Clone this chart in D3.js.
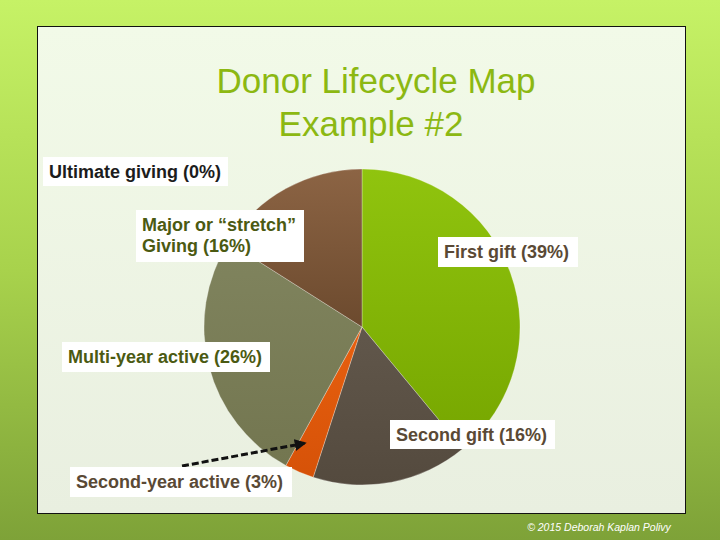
<!DOCTYPE html>
<html>
<head>
<meta charset="utf-8">
<script src="https://cdn.jsdelivr.net/npm/d3@7"></script>
<style>
  html, body { margin: 0; padding: 0; }
  body { width: 720px; height: 540px; overflow: hidden; }
  text { font-family: Arial, "Liberation Sans", sans-serif; }
</style>
</head>
<body>
<script>
// data
const stages = ['First gift', 'Second gift', 'Second-year active', 'Multi-year active', 'Major or “stretch” Giving', 'Ultimate giving'];
const shares = [39, 16, 3, 26, 16, 0];
const sliceTop = ['#90c40e', '#61574b', '#e8600f', '#80845e', '#8c6444', '#888'];
const sliceBottom = ['#76a600', '#544a3e', '#d65208', '#737650', '#6c4a2e', '#888'];

// label boxes (hand placed like the original slide)
const labelLines = [
    ['First gift (39%)'],
    ['Second gift (16%)'],
    ['Second-year active (3%)'],
    ['Multi-year active (26%)'],
    ['Major or “stretch”', 'Giving (16%)'],
    ['Ultimate giving (0%)']
];
const labelBox = [
    {x: 438, y: 237, w: 140, h: 30, c: '#5a4935'},
    {x: 390, y: 420, w: 165, h: 29, c: '#5a4935'},
    {x: 70, y: 467, w: 222, h: 30, c: '#5a4935'},
    {x: 62, y: 342, w: 208, h: 30, c: '#4b5a12'},
    {x: 136, y: 210, w: 168, h: 52, c: '#4b5a12'},
    {x: 43, y: 157, w: 185, h: 29, c: '#1c1c1c'}
];

const width = 720;
const height = 540;

const svg = d3.select('body').append('svg')
    .attr('width', width)
    .attr('height', height);

const defs = svg.append('defs');

const bg = defs.append('linearGradient').attr('id', 'bg')
    .attr('x1', 0).attr('y1', 0).attr('x2', 0).attr('y2', 1);
bg.append('stop').attr('offset', 0).attr('stop-color', '#c6f266');
bg.append('stop').attr('offset', 0.5).attr('stop-color', '#a8d24c');
bg.append('stop').attr('offset', 1).attr('stop-color', '#7ea238');

const panel = defs.append('linearGradient').attr('id', 'panel')
    .attr('x1', 0).attr('y1', 0).attr('x2', 0).attr('y2', 1);
panel.append('stop').attr('offset', 0).attr('stop-color', '#f2fae8');
panel.append('stop').attr('offset', 1).attr('stop-color', '#e9efe0');

const marker = defs.append('marker')
    .attr('id', 'arrow')
    .attr('viewBox', '0 0 10 10')
    .attr('refX', 8).attr('refY', 5)
    .attr('markerWidth', 4).attr('markerHeight', 4)
    .attr('orient', 'auto');
marker.append('path').attr('d', 'M0,0 L10,5 L0,10 z').attr('fill', '#111');

svg.append('rect')
    .attr('width', width).attr('height', height)
    .attr('fill', 'url(#bg)');

svg.append('rect')
    .attr('x', 37.5).attr('y', 26.5)
    .attr('width', 648).attr('height', 487)
    .attr('fill', 'url(#panel)')
    .attr('stroke', '#111').attr('stroke-width', 1);

// title
const title = svg.append('text')
    .attr('text-anchor', 'middle')
    .attr('fill', '#8cb812')
    .style('font-size', '35px');
title.append('tspan').attr('x', 376).attr('y', 93).text('Donor Lifecycle Map');
title.append('tspan').attr('x', 371).attr('y', 136).text('Example #2');

// pie
const cx = 362, cy = 327, radius = 158;

const pie = d3.pie().sort(null).value(d => d);
const arcs = pie(shares);
const arc = d3.arc().innerRadius(0).outerRadius(radius);

arcs.forEach((a, i) => {
    const g = defs.append('linearGradient').attr('id', 'sl' + i)
        .attr('x1', 0).attr('y1', 0).attr('x2', 0).attr('y2', 1);
    g.append('stop').attr('offset', 0).attr('stop-color', sliceTop[i]);
    g.append('stop').attr('offset', 1).attr('stop-color', sliceBottom[i]);
});

const pieG = svg.append('g').attr('transform', `translate(${cx},${cy})`);

pieG.selectAll('path')
    .data(arcs.filter(a => a.value > 0))
    .enter()
    .append('path')
    .attr('d', arc)
    .attr('fill', a => `url(#sl${a.index})`)
    .attr('stroke', 'rgba(255,255,255,0.35)')
    .attr('stroke-width', 0.8);

// arrow from the small slice label
const small = arcs[2];
const mid = (small.startAngle + small.endAngle) / 2;
const tip = [cx + Math.sin(mid) * (radius - 28) - 6, cy - Math.cos(mid) * (radius - 28) - 3];
svg.append('line')
    .attr('x1', 182).attr('y1', 466)
    .attr('x2', tip[0]).attr('y2', tip[1])
    .attr('stroke', '#111')
    .attr('stroke-width', 3)
    .attr('stroke-dasharray', '7,3')
    .attr('marker-end', 'url(#arrow)');

// labels
const labels = svg.selectAll('g.label')
    .data(labelBox)
    .enter()
    .append('g')
    .attr('class', 'label');

labels.append('rect')
    .attr('x', d => d.x).attr('y', d => d.y)
    .attr('width', d => d.w).attr('height', d => d.h)
    .attr('fill', '#fff');

labels.each(function (d, i) {
    const t = d3.select(this).append('text')
        .attr('fill', d.c)
        .style('font-size', '18px')
        .style('font-weight', 'bold');
    labelLines[i].forEach((line, j) => {
        t.append('tspan')
            .attr('x', d.x + 6)
            .attr('y', d.y + 21 + j * 21)
            .text(line);
    });
});

svg.append('text')
    .attr('x', 599).attr('y', 531)
    .attr('text-anchor', 'middle')
    .attr('fill', '#fff')
    .style('font-size', '10.5px')
    .style('font-style', 'italic')
    .text('© 2015 Deborah Kaplan Polivy');
</script>
</body>
</html>
